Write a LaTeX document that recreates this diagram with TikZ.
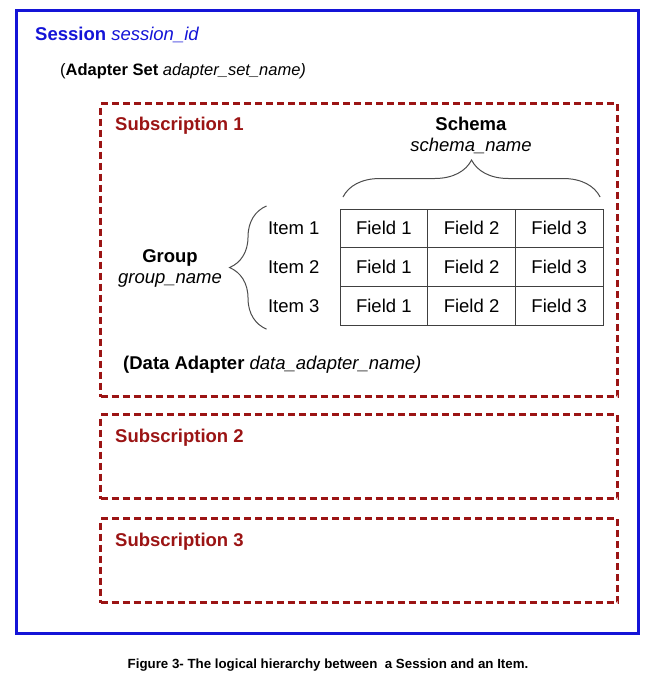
\documentclass[tikz,border=0pt]{standalone}
\usepackage{fontspec}
\setmainfont{Liberation Sans}
\usepackage{xcolor}
\usepackage{tikz}
\usetikzlibrary{positioning, calc, decorations.pathreplacing}

\definecolor{sessblue}{RGB}{20,20,215}
\definecolor{subred}{RGB}{155,20,20}

\begin{document}
\begin{tikzpicture}[x=1pt, y=-1pt, font=\fontsize{18.5}{22}\selectfont]
% Styles
    \tikzstyle{sessbox} = [rectangle, draw=sessblue, line width=2.5pt, anchor=north west, inner sep=0pt]
    \tikzstyle{subbox} = [rectangle, draw=subred, line width=3pt, dash pattern=on 7pt off 4pt, anchor=north west, inner sep=0pt, minimum width=517pt]
    \tikzstyle{txt} = [anchor=base west, inner sep=0pt]
    \tikzstyle{subtxt} = [txt, text=subred]
    \tikzstyle{cell} = [rectangle, draw=black!75, line width=1pt, minimum width=87.7pt, minimum height=38.7pt, inner sep=0pt, outer sep=0pt]
    \tikzstyle{curly} = [draw=black!70, line width=1pt, decorate, decoration={brace, amplitude=37pt}]

    \useasboundingbox (0,0) rectangle (652,681);

    % Session et adapter set
    \node [sessbox, minimum width=622pt, minimum height=623pt] (session) at (15,9) {};
    \node [txt, text=sessblue] (sessname) at (35,40) {\textbf{Session} \textit{session\_id}};
    \node [txt, font=\fontsize{16.5}{20}\selectfont] (adapterset) at (60,75) {(\textbf{Adapter Set} \textit{adapter\_set\_name)}};

    % Subscriptions
    \node [subbox, minimum height=293pt] (sub1) at (99,102) {};
    \node [subbox, minimum height=84pt] (sub2) at (99,413) {};
    \node [subbox, minimum height=84pt] (sub3) at (99,517) {};
    \node [subtxt] (sub1name) at (115,130) {\textbf{Subscription 1}};
    \node [subtxt] (sub2name) at (115,442) {\textbf{Subscription 2}};
    \node [subtxt] (sub3name) at (115,546) {\textbf{Subscription 3}};

    % Tableau des champs
    \node [cell, anchor=north west] (f11) at (340,209) {Field 1};
    \node [cell, right=0pt of f11] (f12) {Field 2};
    \node [cell, right=0pt of f12] (f13) {Field 3};
    \node [cell, below=0pt of f11] (f21) {Field 1};
    \node [cell, right=0pt of f21] (f22) {Field 2};
    \node [cell, right=0pt of f22] (f23) {Field 3};
    \node [cell, below=0pt of f21] (f31) {Field 1};
    \node [cell, right=0pt of f31] (f32) {Field 2};
    \node [cell, right=0pt of f32] (f33) {Field 3};

    % Items et groupe
    \node [left=17pt of f11] (item1) {Item 1};
    \node [left=17pt of f21] (item2) {Item 2};
    \node [left=17pt of f31] (item3) {Item 3};
    \node [anchor=base] (group) at (170,262) {\textbf{Group}};
    \node [anchor=base] (groupname) at (170,283) {\textit{group\_name}};

    % Schema
    \node [anchor=base] (schema) at (471,130) {\textbf{Schema}};
    \node [anchor=base] (schemaname) at (471,151) {\textit{schema\_name}};

    % Accolades
    \draw [curly] ($(f11.north west)+(3,-12)$) -- ($(f13.north east)+(-3,-12)$);
    \draw [curly] ($(item3.west |- f31.south)+(2,4)$) -- ($(item1.west |- f11.north)+(2,-3)$);

    \node [txt] (dataadapter) at (123,369) {\textbf{(Data Adapter} \textit{data\_adapter\_name)}};

    % Legende
    \node [font=\fontsize{13.3}{16}\selectfont\bfseries] (caption) at (328,665) {Figure 3- The logical hierarchy between~ a Session and an Item.};
\end{tikzpicture}
\end{document}
